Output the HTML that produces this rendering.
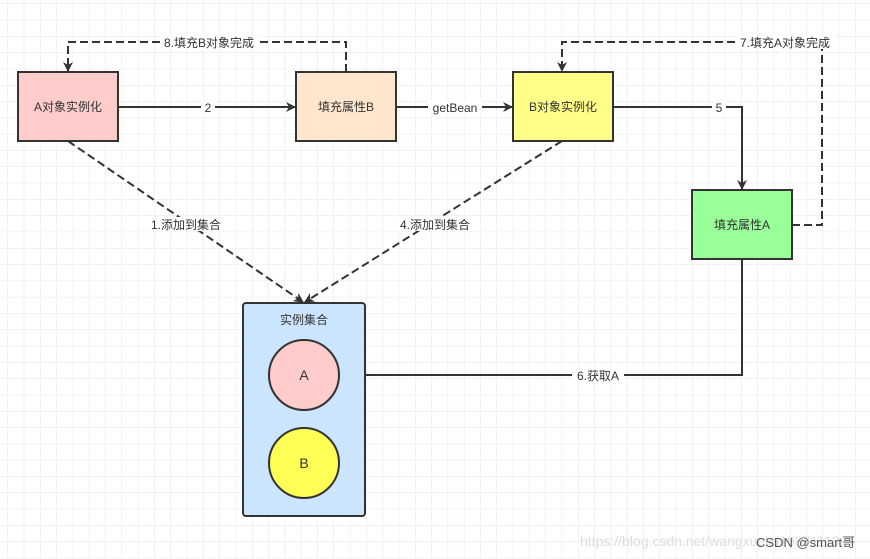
<!DOCTYPE html>
<html><head><meta charset="utf-8"><style>
body{margin:0;background:#fff}
svg{display:block;font-family:"Liberation Sans","Noto Sans CJK SC",sans-serif}
</style></head><body>
<svg width="870" height="559" viewBox="0 0 870 559" xmlns="http://www.w3.org/2000/svg">
<defs>
<pattern id="g" width="16.3" height="16.3" patternUnits="userSpaceOnUse" x="8" y="4">
<path d="M16.3 0V16.3M0 16.3H16.3" fill="none" stroke="#e6e6e6" stroke-width="1"/>
</pattern>
<marker id="ar" markerWidth="10" markerHeight="10" refX="9" refY="5" orient="auto" markerUnits="userSpaceOnUse">
<path d="M0 0L10 5L0 10L3 5z" fill="#333"/>
</marker>
</defs>
<rect width="870" height="559" fill="url(#g)"/>
<g fill="none" stroke="#333" stroke-width="2">
<path d="M346 72V42H68V71" stroke-dasharray="8 4" marker-end="url(#ar)"/>
<path d="M792 225H822V42H562V71" stroke-dasharray="8 4" marker-end="url(#ar)"/>
<path d="M118 107H295" marker-end="url(#ar)"/>
<path d="M396 107H512" marker-end="url(#ar)"/>
<path d="M613 107H742V189" marker-end="url(#ar)"/>
<path d="M742 259V375H341" marker-end="url(#ar)"/>
<path d="M68 141L303 302" stroke-dasharray="8 4" marker-end="url(#ar)"/>
<path d="M562 141L305 302" stroke-dasharray="8 4" marker-end="url(#ar)"/>
</g>
<g stroke="#333" stroke-width="2">
<rect x="18" y="72" width="100" height="69" fill="#ffcccc"/>
<rect x="296" y="72" width="100" height="69" fill="#ffe6cc"/>
<rect x="513" y="72" width="100" height="69" fill="#ffff88"/>
<rect x="692" y="190" width="100" height="69" fill="#99ff99"/>
<rect x="243" y="303" width="122" height="213" rx="3" fill="#cce5ff"/>
<ellipse cx="304" cy="375" rx="35" ry="35" fill="#ffcccc"/>
<ellipse cx="304" cy="463" rx="35" ry="35" fill="#ffff55"/>
</g>
<g font-size="12" fill="#333" text-anchor="middle">
<text x="68" y="111">A对象实例化</text>
<text x="346" y="111">填充属性B</text>
<text x="563" y="111">B对象实例化</text>
<text x="742" y="229">填充属性A</text>
<text x="304" y="324">实例集合</text>
<text x="304" y="380" font-size="14">A</text>
<text x="304" y="468" font-size="14">B</text>
</g>
<g font-size="12" fill="#333" text-anchor="middle">
<rect x="160" y="35" width="98" height="14" fill="#fff"/><text x="209" y="47">8.填充B对象完成</text>
<rect x="736" y="35" width="98" height="14" fill="#fff"/><text x="785" y="47">7.填充A对象完成</text>
<rect x="201" y="100" width="14" height="14" fill="#fff"/><text x="208" y="112">2</text>
<rect x="428" y="100" width="54" height="14" fill="#fff"/><text x="455" y="112">getBean</text>
<rect x="712" y="100" width="14" height="14" fill="#fff"/><text x="719" y="112">5</text>
<rect x="572" y="368" width="52" height="14" fill="#fff"/><text x="598" y="380">6.获取A</text>
<rect x="145" y="217" width="82" height="14" fill="#fff"/><text x="186" y="229">1.添加到集合</text>
<rect x="394" y="217" width="82" height="14" fill="#fff"/><text x="435" y="229">4.添加到集合</text>
</g>
<text x="580" y="546" font-size="14" fill="#ddd">https://blog.csdn.net/wangxuelei19871113</text>
<text x="756" y="547" font-size="13" fill="#555">CSDN @smart哥</text>
</svg>
</body></html>
